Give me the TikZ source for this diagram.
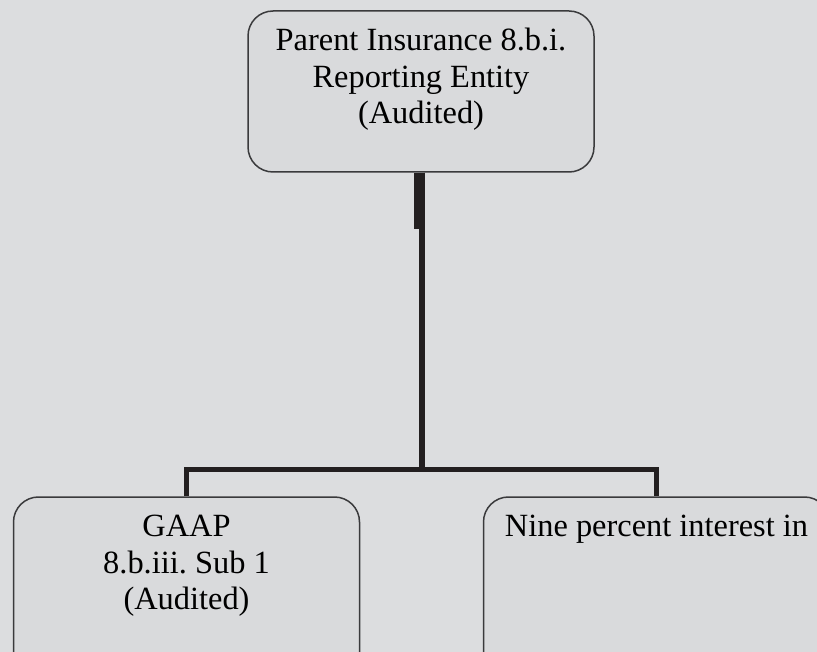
\documentclass[tikz,border=0pt]{standalone}
\usepackage{fontspec}
\setmainfont{Liberation Serif}
\frenchspacing
\definecolor{bg}{HTML}{DCDDDF}
\definecolor{boxfill}{HTML}{D9DADC}
\definecolor{boxline}{HTML}{3A3A3C}
\definecolor{connline}{HTML}{231F20}
\begin{document}
\begin{tikzpicture}[x=1pt,y=-1pt,
  orgbox/.style={draw=boxline,line width=1.5pt,fill=boxfill,rounded corners=25pt,
    minimum width=346pt,inner sep=0pt},
  boxtext/.style={anchor=north,align=center,inner sep=0pt,
    font=\fontsize{32.4}{36.5}\selectfont,text=black},
  conn/.style={draw=connline,line width=5.5pt,line join=miter,line cap=butt}]
\fill[bg] (0,0) rectangle (817,652);
\useasboundingbox (0,0) rectangle (817,652);
\clip (0,0) rectangle (817,652);
% boxes
\node[orgbox,minimum height=161pt] (pbox) at (421,91.5) {};
\node[orgbox,minimum height=200pt] (lbox) at (186.5,597) {};
\node[orgbox,minimum height=200pt] (rbox) at (656.5,597) {};
% texts
\node[boxtext] (ptext) at (421,28) {Parent Insurance 8.b.i.\\Reporting Entity\\(Audited)};
\node[boxtext] (ltext) at (186.5,515) {GAAP\\8.b.iii. Sub 1\\(Audited)};
\node[boxtext] (rtext) at (656.5,515) {Nine percent interest in};
% connectors
\coordinate (j) at (422,469.5);
\coordinate (s1) at (419.7,229);
\draw[conn,line width=10.7pt] (pbox.south -| s1) -- (s1);
\draw[conn,line width=6pt] (pbox.south -| j) -- (j);
\draw[conn] (lbox.north) -- (lbox.north |- j) -- (rbox.north |- j) -- (rbox.north);
\end{tikzpicture}
\end{document}
